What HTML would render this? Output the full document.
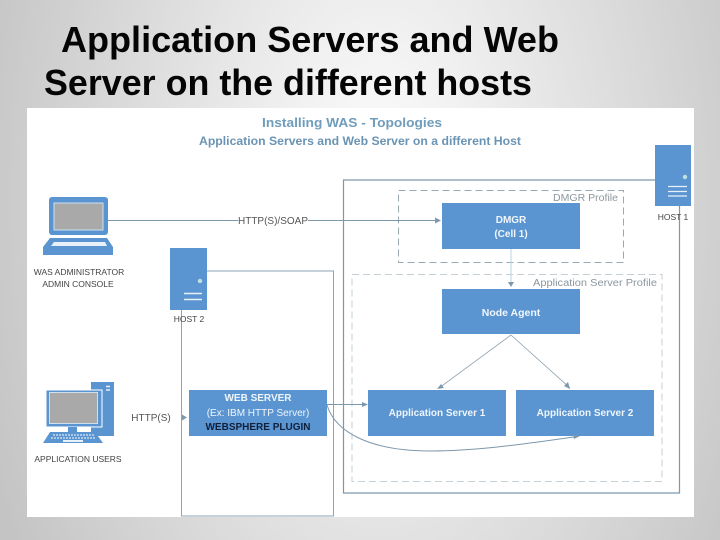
<!DOCTYPE html>
<html>
<head>
<meta charset="utf-8">
<style>
html,body{margin:0;padding:0;width:720px;height:540px;overflow:hidden;background:#fff}
svg{display:block}
text{font-family:"Liberation Sans",sans-serif}
</style>
</head>
<body>
<svg width="720" height="540" viewBox="0 0 720 540" xmlns="http://www.w3.org/2000/svg">
<defs>
<radialGradient id="bg" gradientUnits="userSpaceOnUse" cx="0" cy="0" r="1" gradientTransform="translate(380 200) scale(420 700)">
<stop offset="0" stop-color="#ffffff"/>
<stop offset="1" stop-color="#c4c4c4"/>
</radialGradient>
</defs>
<rect width="720" height="540" fill="url(#bg)"/>
<text x="61" y="52" font-size="36" font-weight="bold" fill="#050505" textLength="498" lengthAdjust="spacingAndGlyphs">Application Servers and Web</text>
<text x="44" y="95" font-size="36" font-weight="bold" fill="#050505" textLength="488" lengthAdjust="spacingAndGlyphs">Server on the different hosts</text>

<rect x="27" y="108" width="667" height="409" fill="#fff"/>

<text x="352" y="127" font-size="13" font-weight="bold" fill="#6f9dbb" text-anchor="middle" textLength="180" lengthAdjust="spacingAndGlyphs">Installing WAS - Topologies</text>
<text x="360" y="145" font-size="12" font-weight="bold" fill="#6a94b3" text-anchor="middle" textLength="322" lengthAdjust="spacingAndGlyphs">Application Servers and Web Server on a different Host</text>

<!-- host frames -->
<path d="M207 271H333.5V516H181.5V310" fill="none" stroke="#8ba5b8" stroke-width="1"/>
<path d="M655 180H343.5V493H679.5V206" fill="none" stroke="#7d98ab" stroke-width="1.2"/>

<!-- profiles -->
<rect x="398.5" y="190.5" width="225" height="72" fill="none" stroke="#9aa8b0" stroke-width="1" stroke-dasharray="7 4"/>
<rect x="352" y="274.5" width="310" height="207" fill="none" stroke="#c5d0d6" stroke-width="1" stroke-dasharray="7 4"/>
<text x="618" y="201" font-size="10" fill="#8b979e" text-anchor="end" textLength="65" lengthAdjust="spacingAndGlyphs">DMGR Profile</text>
<text x="657" y="286" font-size="10" fill="#8b979e" text-anchor="end" textLength="124" lengthAdjust="spacingAndGlyphs">Application Server Profile</text>

<!-- laptop -->
<rect x="49" y="197" width="59" height="38" rx="3" fill="#5b95d1"/>
<rect x="54" y="203" width="49" height="27" fill="#a9a9a9" stroke="#cfe0ef" stroke-width="1"/>
<path d="M50 238H107L113 247V255H43V247Z" fill="#5b95d1"/>
<path d="M54 242H105L107 246H51Z" fill="#e8f0f8"/>
<text x="79" y="275" font-size="8.5" fill="#444" text-anchor="middle">WAS ADMINISTRATOR</text>
<text x="78" y="287" font-size="8.5" fill="#444" text-anchor="middle">ADMIN CONSOLE</text>

<!-- connector admin -->
<path d="M108 220.5H238M308 220.5H436" stroke="#7d98ab" stroke-width="1" fill="none"/>
<path d="M441 220.5L435 217.5V223.5Z" fill="#7d98ab"/>
<text x="273" y="224" font-size="10" fill="#555" text-anchor="middle">HTTP(S)/SOAP</text>

<!-- host 2 -->
<rect x="170" y="248" width="37" height="62" fill="#5b95d1"/>
<circle cx="200" cy="281" r="2.2" fill="#bfe0dc"/>
<path d="M184 293.5H202M184 299.5H202" stroke="#e8f0f8" stroke-width="1.4"/>
<text x="189" y="322" font-size="8.5" fill="#444" text-anchor="middle">HOST 2</text>

<!-- host 1 -->
<rect x="655" y="145" width="36" height="61" fill="#5b95d1"/>
<circle cx="685" cy="177" r="2.2" fill="#bfe0dc"/>
<path d="M668 186.5H687M668 191.500H687M668 196H687" stroke="#e8f0f8" stroke-width="1.2"/>
<text x="673" y="220" font-size="8.5" fill="#444" text-anchor="middle">HOST 1</text>

<!-- boxes -->
<rect x="442" y="203" width="138" height="46" fill="#5b95d1"/>
<text x="511" y="223" font-size="10" font-weight="bold" fill="#f0f6fb" text-anchor="middle">DMGR</text>
<text x="511" y="237" font-size="10" font-weight="bold" fill="#f0f6fb" text-anchor="middle">(Cell 1)</text>

<path d="M511 249V283" stroke="#b5d3e6" stroke-width="1"/>
<path d="M511 287L508 282H514Z" fill="#7d98ab"/>

<rect x="442" y="289" width="138" height="45" fill="#5b95d1"/>
<text x="511" y="316" font-size="10.5" font-weight="bold" fill="#f0f6fb" text-anchor="middle">Node Agent</text>

<path d="M511 335L439 388M511 335L570 388" stroke="#8ba0ae" stroke-width="0.8" fill="none"/>
<path d="M437 389L441 384L444 388Z" fill="#7d98ab"/>
<path d="M570 389L564 386L568 382Z" fill="#7d98ab"/>

<rect x="368" y="390" width="138" height="46" fill="#5b95d1"/>
<text x="437" y="416" font-size="10" font-weight="bold" fill="#eef5fb" text-anchor="middle">Application Server 1</text>
<rect x="516" y="390" width="138" height="46" fill="#5b95d1"/>
<text x="585" y="416" font-size="10" font-weight="bold" fill="#eef5fb" text-anchor="middle">Application Server 2</text>

<rect x="189" y="390" width="138" height="46" fill="#5b95d1"/>
<text x="258" y="401" font-size="10" font-weight="bold" fill="#eef5fb" text-anchor="middle">WEB SERVER</text>
<text x="258" y="416" font-size="10" fill="#eef5fb" text-anchor="middle">(Ex: IBM HTTP Server)</text>
<text x="258" y="430" font-size="10" font-weight="bold" fill="#10203a" text-anchor="middle">WEBSPHERE PLUGIN</text>

<path d="M327 404.5H362" stroke="#7d98ab" stroke-width="1" fill="none"/>
<path d="M368 404.5L362 402V407Z" fill="#7d98ab"/>
<path d="M327 405C335 432 370 451 430 451C480 451 530 443 574 437" stroke="#7d98ab" stroke-width="1" fill="none"/>
<path d="M580 436L573 434.500L574 439Z" fill="#7d98ab"/>

<!-- desktop -->
<rect x="91" y="382" width="23" height="54" fill="#5b95d1"/>
<path d="M106 386.500H110M106 390H110" stroke="#e8f0f8" stroke-width="1.4"/>
<rect x="46" y="390" width="56" height="37" fill="#5b95d1" stroke="#fff" stroke-width="1"/>
<rect x="49.500" y="392.500" width="48" height="31" fill="#a9a9a9" stroke="#cfe0ef" stroke-width="1"/>
<rect x="68" y="427" width="9" height="6" fill="#5b95d1"/>
<path d="M50 432H95L103 443H43Z" fill="#5b95d1"/>
<path d="M53 435H94M51 438H96" stroke="#d8e6f2" stroke-width="1.200" stroke-dasharray="2 1"/>
<rect x="63" y="440" width="20" height="2" fill="#e8f0f8"/>
<text x="78" y="462" font-size="8.5" fill="#444" text-anchor="middle">APPLICATION USERS</text>

<text x="151" y="421" font-size="10" fill="#555" text-anchor="middle">HTTP(S)</text>
<path d="M187 417.500L182 414.500V420.500Z" fill="#7d98ab"/>
</svg>
</body>
</html>
